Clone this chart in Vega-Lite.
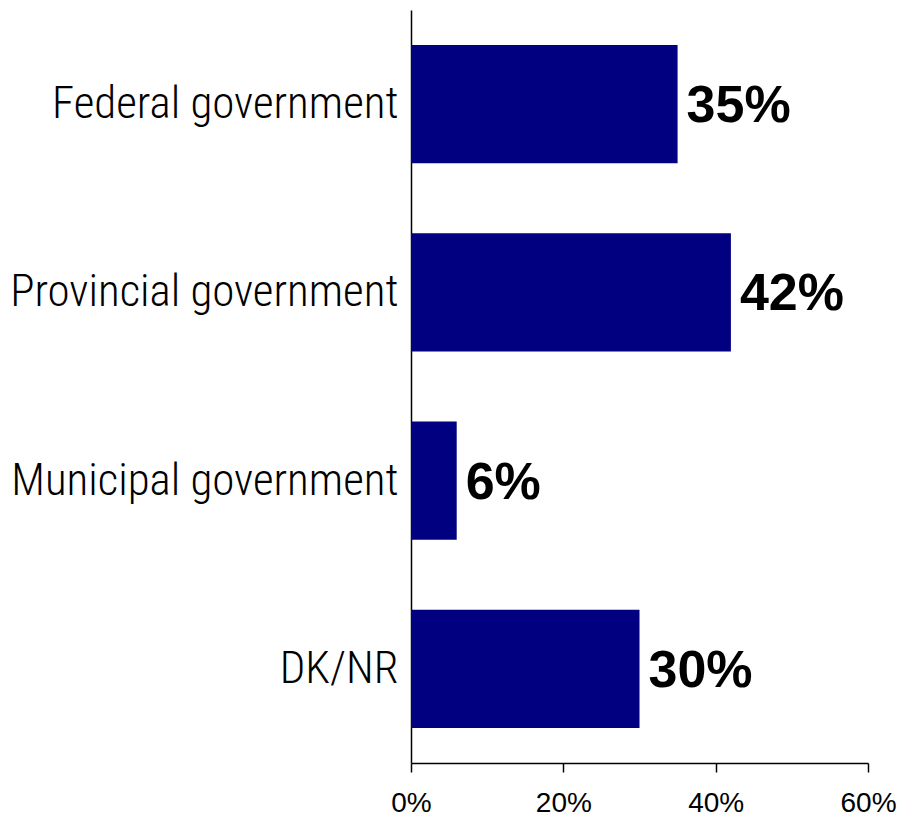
{
  "$schema": "https://vega.github.io/schema/vega-lite/v6.json",
  "autosize": {"type": "none"},
  "width": 457,
  "height": 753,
  "padding": {"left": 411, "top": 10, "right": 31, "bottom": 53},
  "background": "white",
  "config": {"view": {"stroke": null}},
  "data": {
    "values": [
      {"category": "Federal government", "value": 0.35, "label": "35%"},
      {"category": "Provincial government", "value": 0.42, "label": "42%"},
      {"category": "Municipal government", "value": 0.06, "label": "6%"},
      {"category": "DK/NR", "value": 0.30, "label": "30%"}
    ]
  },
  "encoding": {
    "y": {
      "field": "category",
      "type": "nominal",
      "sort": null,
      "scale": {"paddingInner": 0.372, "paddingOuter": 0.186},
      "axis": {
        "title": null,
        "ticks": false,
        "domainColor": "black",
        "domainWidth": 1.5,
        "labelFont": "Roboto Condensed, Noto Sans Condensed, DejaVu Sans Condensed, Liberation Sans",
        "labelFontSize": 45,
        "labelFontWeight": 300,
        "labelColor": "black",
        "labelPadding": 13,
        "labelLimit": 0
      }
    },
    "x": {
      "field": "value",
      "type": "quantitative",
      "scale": {"domain": [0, 0.6], "nice": false},
      "axis": {
        "title": null,
        "format": ".0%",
        "values": [0, 0.2, 0.4, 0.6],
        "grid": false,
        "domainColor": "black",
        "domainWidth": 1.5,
        "tickColor": "black",
        "tickWidth": 1.5,
        "tickSize": 9,
        "labelFont": "Liberation Sans",
        "labelFontSize": 28,
        "labelColor": "black",
        "labelPadding": 17,
        "labelFlush": false
      }
    }
  },
  "layer": [
    {"mark": {"type": "bar", "color": "#000080"}},
    {
      "mark": {
        "type": "text",
        "align": "left",
        "baseline": "middle",
        "dx": 9,
        "dy": 2,
        "font": "Liberation Sans",
        "fontSize": 52,
        "fontWeight": "bold",
        "color": "black"
      },
      "encoding": {"text": {"field": "label"}}
    }
  ]
}
